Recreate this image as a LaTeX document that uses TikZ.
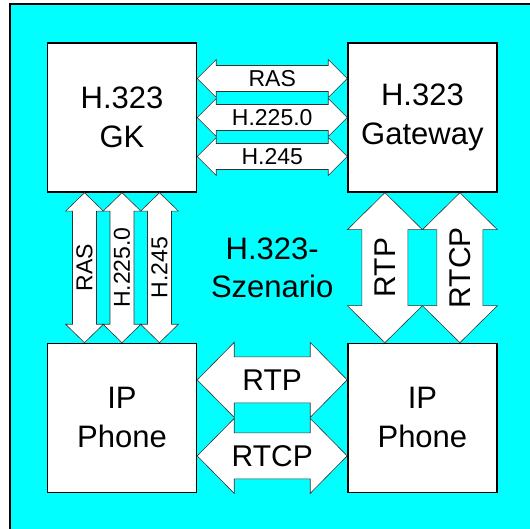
\documentclass[tikz,border=0pt]{standalone}
\usepackage{fontspec}
\setmainfont{Liberation Sans}
\usetikzlibrary{positioning,calc}
\definecolor{scenecyan}{RGB}{0,255,255}
\definecolor{arrowline}{RGB}{50,50,50}
% double block arrow: from, to, shaft half width, head half width, head length
\newcommand{\dblarrow}[5]{%
  \draw[blockarrow] (#1) -- ($(#1)!#5!(#2)!#4!90:(#2)$) -- ($(#1)!#5!(#2)!#3!90:(#2)$)
    -- ($(#2)!#5!(#1)!#3!-90:(#1)$) -- ($(#2)!#5!(#1)!#4!-90:(#1)$) -- (#2)
    -- ($(#2)!#5!(#1)!#4!90:(#1)$) -- ($(#2)!#5!(#1)!#3!90:(#1)$)
    -- ($(#1)!#5!(#2)!#3!-90:(#2)$) -- ($(#1)!#5!(#2)!#4!-90:(#2)$) -- cycle;}

\begin{document}
\begin{tikzpicture}[x=1pt,y=-1pt,
    box/.style={draw,line width=1.4pt,fill=white,minimum width=149pt,minimum height=149pt,
      inner sep=0pt,align=center,font=\fontsize{31}{39}\selectfont},
    blockarrow/.style={draw=arrowline,line width=0.6pt,fill=white,line join=miter},
    smalllab/.style={font=\fontsize{23}{26}\selectfont,inner sep=0pt},
    biglab/.style={font=\fontsize{30}{34}\selectfont,inner sep=0pt}]
  \useasboundingbox (0,0) rectangle (530,529);
  % background panel
  \draw[fill=scenecyan,line width=1.4pt] (10,4) rectangle (545,545);
  % the four endpoints
  \node[box] (gk) at (122,117.5) {H.323\\GK};
  \node[box,right=150pt of gk] (gw) {H.323\\Gateway};
  \node[box,below=150pt of gk] (ph1) {IP\\Phone};
  \node[box,right=150pt of ph1] (ph2) {IP\\Phone};
  \node[font=\fontsize{31}{38}\selectfont,align=center] (scen) at ($(gk)!0.5!(ph2)$) {H.323-\\Szenario};
  % GK <-> Gateway
  \foreach \dy/\lab [count=\i] in {-39/RAS,0/H.225.0,39/H.245} {
    \coordinate (ta\i) at ($(gk.east)+(0,\dy)$);
    \coordinate (tb\i) at ($(gw.west)+(0,\dy)$);
    \dblarrow{ta\i}{tb\i}{13pt}{19pt}{19pt}
    \node[smalllab] (tl\i) at ($(ta\i)!0.5!(tb\i)$) {\lab};
  }
  % GK <-> IP Phone
  \foreach \dx/\lab [count=\i] in {-37.5/RAS,0/H.225.0,37.5/H.245} {
    \coordinate (la\i) at ($(gk.south)+(\dx,0)$);
    \coordinate (lb\i) at ($(ph1.north)+(\dx,0)$);
    \dblarrow{la\i}{lb\i}{12pt}{19pt}{18.5pt}
    \node[smalllab,rotate=90] (ll\i) at ($(la\i)!0.5!(lb\i)$) {\lab};
  }
  % Gateway <-> IP Phone
  \foreach \dx/\lab [count=\i] in {-37.5/RTP,37.5/RTCP} {
    \coordinate (ra\i) at ($(gw.south)+(\dx,0)$);
    \coordinate (rb\i) at ($(ph2.north)+(\dx,0)$);
    \dblarrow{ra\i}{rb\i}{23pt}{37.5pt}{37pt}
    \node[biglab,rotate=90] (rl\i) at ($(ra\i)!0.5!(rb\i)$) {\lab};
  }
  % IP Phone <-> IP Phone
  \foreach \dy/\lab [count=\i] in {-38/RTP,38/RTCP} {
    \coordinate (ba\i) at ($(ph1.east)+(0,\dy)$);
    \coordinate (bb\i) at ($(ph2.west)+(0,\dy)$);
    \dblarrow{ba\i}{bb\i}{23pt}{37.5pt}{37pt}
    \node[biglab] (bl\i) at ($(ba\i)!0.5!(bb\i)$) {\lab};
  }
\end{tikzpicture}
\end{document}
